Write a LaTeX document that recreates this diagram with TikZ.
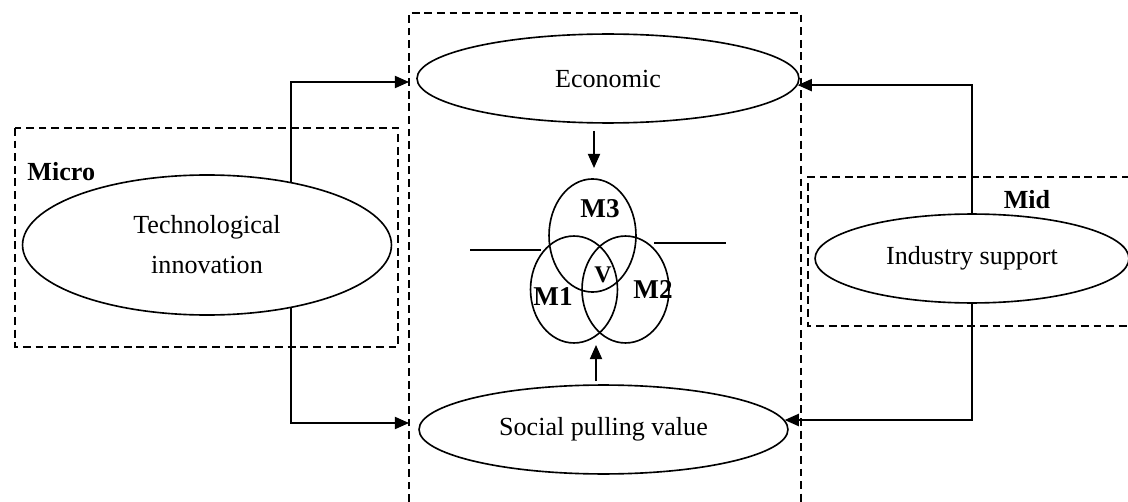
\documentclass[tikz,border=0pt]{standalone}
\usepackage{fontspec}
\setmainfont{Liberation Serif}
\usetikzlibrary{shapes.geometric, arrows.meta, calc}
\tikzset{
  oval/.style={ellipse, draw, line width=0.75pt, inner sep=0pt,
    align=center, font=\fontsize{12}{18.4}\selectfont},
  ring/.style={ellipse, draw, line width=0.75pt, inner sep=0pt,
    minimum width=40pt, minimum height=49.2pt},
  zone/.style={dash pattern=on 3.6pt off 2.2pt, line width=0.6pt},
  tag/.style={font=\fontsize{12}{14}\selectfont\bfseries, inner sep=0pt},
  arrow/.style={-{Triangle[length=6.5pt, width=5.6pt]}, line width=0.7pt},
  line/.style={line width=0.7pt}
}

\begin{document}
\begin{tikzpicture}[x=0.46pt, y=-0.46pt]
  \useasboundingbox (0,0) rectangle (1128,502);

  % Dashed zones
  \draw[zone] (409,502) -- (409,13) -- (801,13) -- (801,502);
  \draw[zone] (15,128) rectangle (398,347);
  \draw[zone] (1130,177) -- (808,177) -- (808,326) -- (1130,326);

  % Ovals
  \node[oval, minimum width=175.7pt, minimum height=40.9pt] (econ) at (608,78.5) {Economic};
  \node[oval, minimum width=169.7pt, minimum height=40.9pt] (social) at (603.5,429.5) {Social pulling value};
  \node[oval, minimum width=169.7pt, minimum height=64.4pt] (tech) at (207,245) {Technological\\innovation};
  \node[oval, minimum width=144.4pt, minimum height=40.9pt] (ind) at (972,258.5) {Industry support};

  % Overlapping circles
  \node[ring, minimum height=52pt] (m3) at (592.5,235.5) {};
  \node[ring] (m1) at (574,289.5) {};
  \node[ring] (m2) at (625.5,289.5) {};
  \node[tag, font=\fontsize{12.5}{14}\selectfont\bfseries] (lm3) at (600,209) {M3};
  \node[tag, font=\fontsize{12.5}{14}\selectfont\bfseries] (lm1) at (553,297) {M1};
  \node[tag, font=\fontsize{12.5}{14}\selectfont\bfseries] (lm2) at (653,290) {M2};
  \node[tag, font=\fontsize{11}{12}\selectfont\bfseries] (lv) at (603,275) {V};
  \draw[line] (470,250) -- (541,250);
  \draw[line] (654,243) -- (726,243);

  % Zone labels
  \node[tag, anchor=west] (lmicro) at (27,172) {Micro};
  \node[tag] (lmid) at (1027,200) {Mid};

  % Connectors
  \coordinate (ein) at (409,82);
  \coordinate (sin) at (409,423);
  \coordinate (vtop) at (594,168);
  \coordinate (vin) at (596,345);
  \draw[arrow] (tech.37) |- (ein);
  \draw[arrow] (tech.-37) |- (sin);
  \draw[arrow] (ind.north) |- (econ.-2);
  \draw[arrow] (ind.south) |- (social.3);
  \draw[arrow] ($(econ.south -| vtop)+(0,7)$) -- (vtop);
  \draw[arrow] ($(social.north -| vin)+(0,-3)$) -- (vin);
\end{tikzpicture}
\end{document}
